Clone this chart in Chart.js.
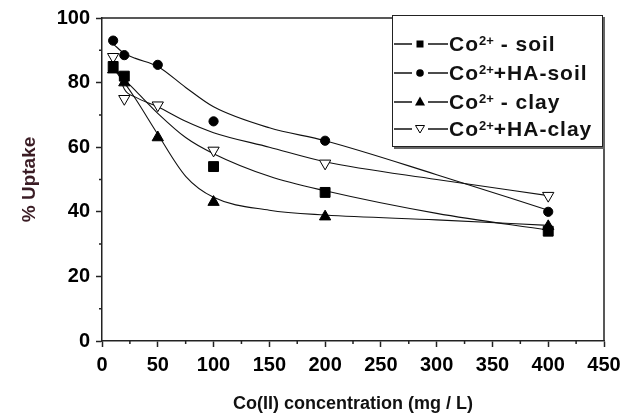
<!DOCTYPE html>
<html>
<head>
<meta charset="utf-8">
<script src="https://cdn.jsdelivr.net/npm/chart.js@4.4.1/dist/chart.umd.min.js"></script>
<style>
  html, body { margin: 0; padding: 0; background: #fff; }
  #wrap { position: relative; width: 640px; height: 415px; }
  #legendBox {
    position: absolute; left: 392px; top: 15px; width: 209px; height: 130px;
    border: 1.5px solid #222; background: #fff;
    box-shadow: 2px 2px 0 #666;
    font-family: "Liberation Sans", Arial, sans-serif; font-weight: bold;
    font-size: 21px; color: #111; letter-spacing: 1px;
  }
  .row { position: absolute; left: 0; height: 22px; display: flex; align-items: center; white-space: nowrap; }
  .row svg { width: 56px; height: 22px; flex: none; }
  .row sup { font-size: 13px; vertical-align: 6px; line-height: 0; letter-spacing: 0; }
</style>
</head>
<body>
<div id="wrap">
  <canvas id="uptakeChart" width="640" height="415"></canvas>
  <div id="legendBox"></div>
</div>
<script>
const concPoints = [10, 20, 50, 100, 200, 400];
const soilPoints = [[10, 85], [20, 82], [100, 54], [200, 46], [400, 34]];
const haSoilPoints = [93, 88.5, 85.5, 68, 62, 40];
const clayPoints = [84, 80, 63, 43, 38.5, 35.5];
const haClayPoints = [88, 75, 73, 59, 55, 45];

// fitted curves
const fitX = [10, 20, 30, 50, 75, 100, 150, 200, 300, 400];
const soilFit = [85, 81, 77.5, 70.5, 63, 58, 51, 46.5, 39.5, 34.3];
const haSoilFit = [92, 89, 87.5, 85, 78.5, 72.5, 66, 62, 51.5, 40.5];
const clayFit = [84.5, 80, 75, 64, 51, 44.5, 40.5, 39, 37.5, 35.8];
const haClayFit = [88, 78, 75.5, 72.5, 68, 64.5, 60, 55.5, 50, 45];

const xTicks = { min: 0, max: 450, step: 50, minor: 25 };
const yTicks = { min: 0, max: 100, step: 20, minor: 10 };

const legendItems = [
  { tail: " - soil", marker: "square" },
  { tail: "+HA-soil", marker: "circle" },
  { tail: " - clay", marker: "triangle" },
  { tail: "+HA-clay", marker: "down" },
];

const FONT = "'Liberation Sans', Arial, sans-serif";
const INK = "#222";

function toXY(xs, ys) {
  return ys.map((y, i) => ({ x: xs[i], y }));
}

function fitLine(data) {
  return {
    data,
    showLine: true,
    borderColor: "#111",
    borderWidth: 1.1,
    pointRadius: 0,
    tension: 0.4,
    cubicInterpolationMode: "monotone",
    order: 2,
  };
}

function markers(data, style, extra = {}) {
  return {
    data,
    showLine: false,
    pointStyle: style,
    pointRadius: 5,
    backgroundColor: "#000",
    borderColor: "#000",
    borderWidth: 1,
    order: 1,
    ...extra,
  };
}

const frameAndMinorTicks = {
  id: "frameAndMinorTicks",
  afterDraw(chart) {
    const { ctx, chartArea: a, scales } = chart;
    ctx.save();
    ctx.strokeStyle = INK;
    ctx.lineWidth = 1.5;
    ctx.beginPath();
    ctx.moveTo(a.left, a.top);
    ctx.lineTo(a.right, a.top);
    ctx.lineTo(a.right, a.bottom);
    ctx.stroke();
    ctx.beginPath();
    for (let v = xTicks.minor; v < xTicks.max; v += xTicks.step) {
      const px = scales.x.getPixelForValue(v);
      ctx.moveTo(px, a.bottom);
      ctx.lineTo(px, a.bottom + 3);
    }
    for (let v = yTicks.minor; v < yTicks.max; v += yTicks.step) {
      const py = scales.y.getPixelForValue(v);
      ctx.moveTo(a.left, py);
      ctx.lineTo(a.left - 3, py);
    }
    ctx.stroke();
    ctx.restore();
  },
};

const ctx = document.querySelector("#uptakeChart");
new Chart(ctx, {
  type: "scatter",
  data: {
    datasets: [
      fitLine(toXY(fitX, soilFit)),
      fitLine(toXY(fitX, haSoilFit)),
      fitLine(toXY(fitX, clayFit)),
      fitLine(toXY(fitX, haClayFit)),
      markers(soilPoints.map(([x, y]) => ({ x, y })), "rect", { pointRadius: 7 }),
      markers(toXY(concPoints, haSoilPoints), "circle", { pointRadius: 4.6 }),
      markers(toXY(concPoints, clayPoints), "triangle", { pointRadius: 6.5 }),
      markers(toXY(concPoints, haClayPoints), "triangle", {
        pointRadius: 6.5, rotation: 180, backgroundColor: "#fff",
      }),
    ],
  },
  options: {
    responsive: false,
    animation: false,
    layout: { padding: { top: 17, right: 36, left: 14, bottom: 0 } },
    plugins: { legend: { display: false }, tooltip: { enabled: false } },
    scales: {
      x: {
        type: "linear",
        min: xTicks.min,
        max: xTicks.max,
        afterFit: (s) => { s.height = 74; },
        border: { color: INK, width: 1.5 },
        grid: { drawOnChartArea: false, color: INK, tickLength: 6, tickWidth: 1.5 },
        ticks: {
          stepSize: xTicks.step,
          color: "#000",
          padding: 6,
          maxRotation: 0,
          font: { family: FONT, size: 20, weight: "bold" },
        },
        title: {
          display: true,
          text: "Co(II) concentration (mg / L)",
          color: "#111",
          padding: { top: 4, bottom: 0 },
          font: { family: FONT, size: 18, weight: "bold" },
        },
      },
      y: {
        min: yTicks.min,
        max: yTicks.max,
        afterFit: (s) => { s.width = 88; },
        border: { color: INK, width: 1.5 },
        grid: { drawOnChartArea: false, color: INK, tickLength: 6, tickWidth: 1.5 },
        ticks: {
          stepSize: yTicks.step,
          color: "#000",
          padding: 6,
          font: { family: FONT, size: 20, weight: "bold" },
        },
        title: {
          display: true,
          text: "% Uptake",
          color: "#3a1c24",
          padding: { bottom: 0 },
          font: { family: FONT, size: 19, weight: "bold" },
        },
      },
    },
  },
  plugins: [frameAndMinorTicks],
});

function markerSvg(kind) {
  let shape = "";
  if (kind === "square") shape = '<rect x="23.5" y="7.5" width="7" height="7" fill="#000"/>';
  if (kind === "circle") shape = '<circle cx="27" cy="11" r="3.8" fill="#000"/>';
  if (kind === "triangle") shape = '<polygon points="27,5.5 32,14.5 22,14.5" fill="#000"/>';
  if (kind === "down") shape = '<polygon points="22.5,7.5 31.5,7.5 27,15" fill="#fff" stroke="#000" stroke-width="1"/>';
  return '<svg viewBox="0 0 56 22"><line x1="1" y1="11" x2="19" y2="11" stroke="#111" stroke-width="1.5"/>'
    + '<line x1="35" y1="11" x2="55" y2="11" stroke="#111" stroke-width="1.5"/>' + shape + "</svg>";
}

const legendBox = document.querySelector("#legendBox");
const rowTops = [17, 46, 75, 102];
legendItems.forEach((item, i) => {
  const row = document.createElement("div");
  row.className = "row";
  row.style.top = rowTops[i] + "px";
  row.innerHTML = markerSvg(item.marker) + "<span>Co<sup>2+</sup>" + item.tail + "</span>";
  legendBox.appendChild(row);
});
</script>
</body>
</html>
